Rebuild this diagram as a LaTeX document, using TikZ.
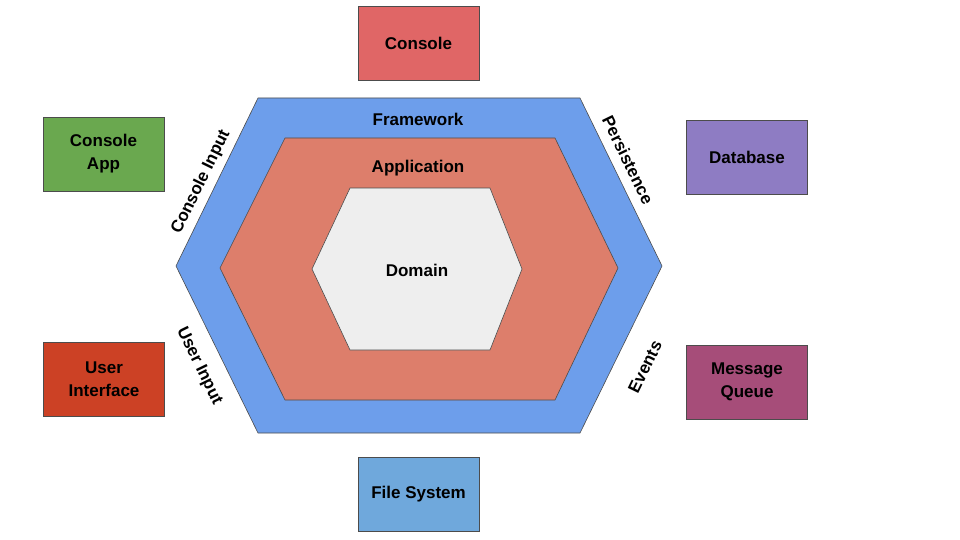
\documentclass[tikz,border=0pt]{standalone}
\usepackage{fontspec}
\setmainfont{Liberation Sans}
\begin{document}
\begin{tikzpicture}[x=1pt,y=-1pt,
  box/.style={draw=black!70,line width=0.6pt,minimum width=121pt,minimum height=74pt,align=center,inner sep=0pt},
  hex/.style={draw=black!70,line width=0.6pt},
  lab/.style={font=\fontsize{17}{23}\selectfont\bfseries,align=center,inner sep=1pt}]
\useasboundingbox (0,0) rectangle (960,540);
\fill[white] (0,0) rectangle (960,540);
\draw[hex,fill={rgb,255:red,109;green,158;blue,235}] (258,98)--(580,98)--(662,266)--(580,433)--(258,433)--(176,266)--cycle;
\draw[hex,fill={rgb,255:red,221;green,126;blue,107}] (285,138)--(555,138)--(618,268)--(555,400)--(285,400)--(220,268)--cycle;
\draw[hex,fill={rgb,255:red,238;green,238;blue,238}] (350,188)--(490,188)--(522,269)--(490,350)--(350,350)--(312,269)--cycle;
\node[lab] (fw) at (418,119) {Framework};
\node[lab] (app) at (418,168) {Application};
\node[lab] (dom) at (417,270) {Domain};
\node[lab,rotate=64] (ci) at (201,182) {Console Input};
\node[lab,rotate=-64] (pe) at (628,160) {Persistence};
\node[lab,rotate=-64] (ui) at (199,366) {User Input};
\node[lab,rotate=64] (ev) at (645,367) {Events};
\node[box,lab,fill={rgb,255:red,224;green,102;blue,102}] (con) at (418.5,43) {Console};
\node[box,lab,fill={rgb,255:red,106;green,168;blue,79}] (capp) at (103.5,154) {Console\\App};
\node[box,lab,fill={rgb,255:red,142;green,124;blue,195}] (db) at (747,157) {Database};
\node[box,lab,fill={rgb,255:red,204;green,65;blue,37}] (uint) at (104,379) {User\\Interface};
\node[box,lab,fill={rgb,255:red,166;green,77;blue,121}] (mq) at (747,382) {Message\\Queue};
\node[box,lab,fill={rgb,255:red,111;green,168;blue,220}] (fs) at (418.5,494) {File System};
\end{tikzpicture}
\end{document}
